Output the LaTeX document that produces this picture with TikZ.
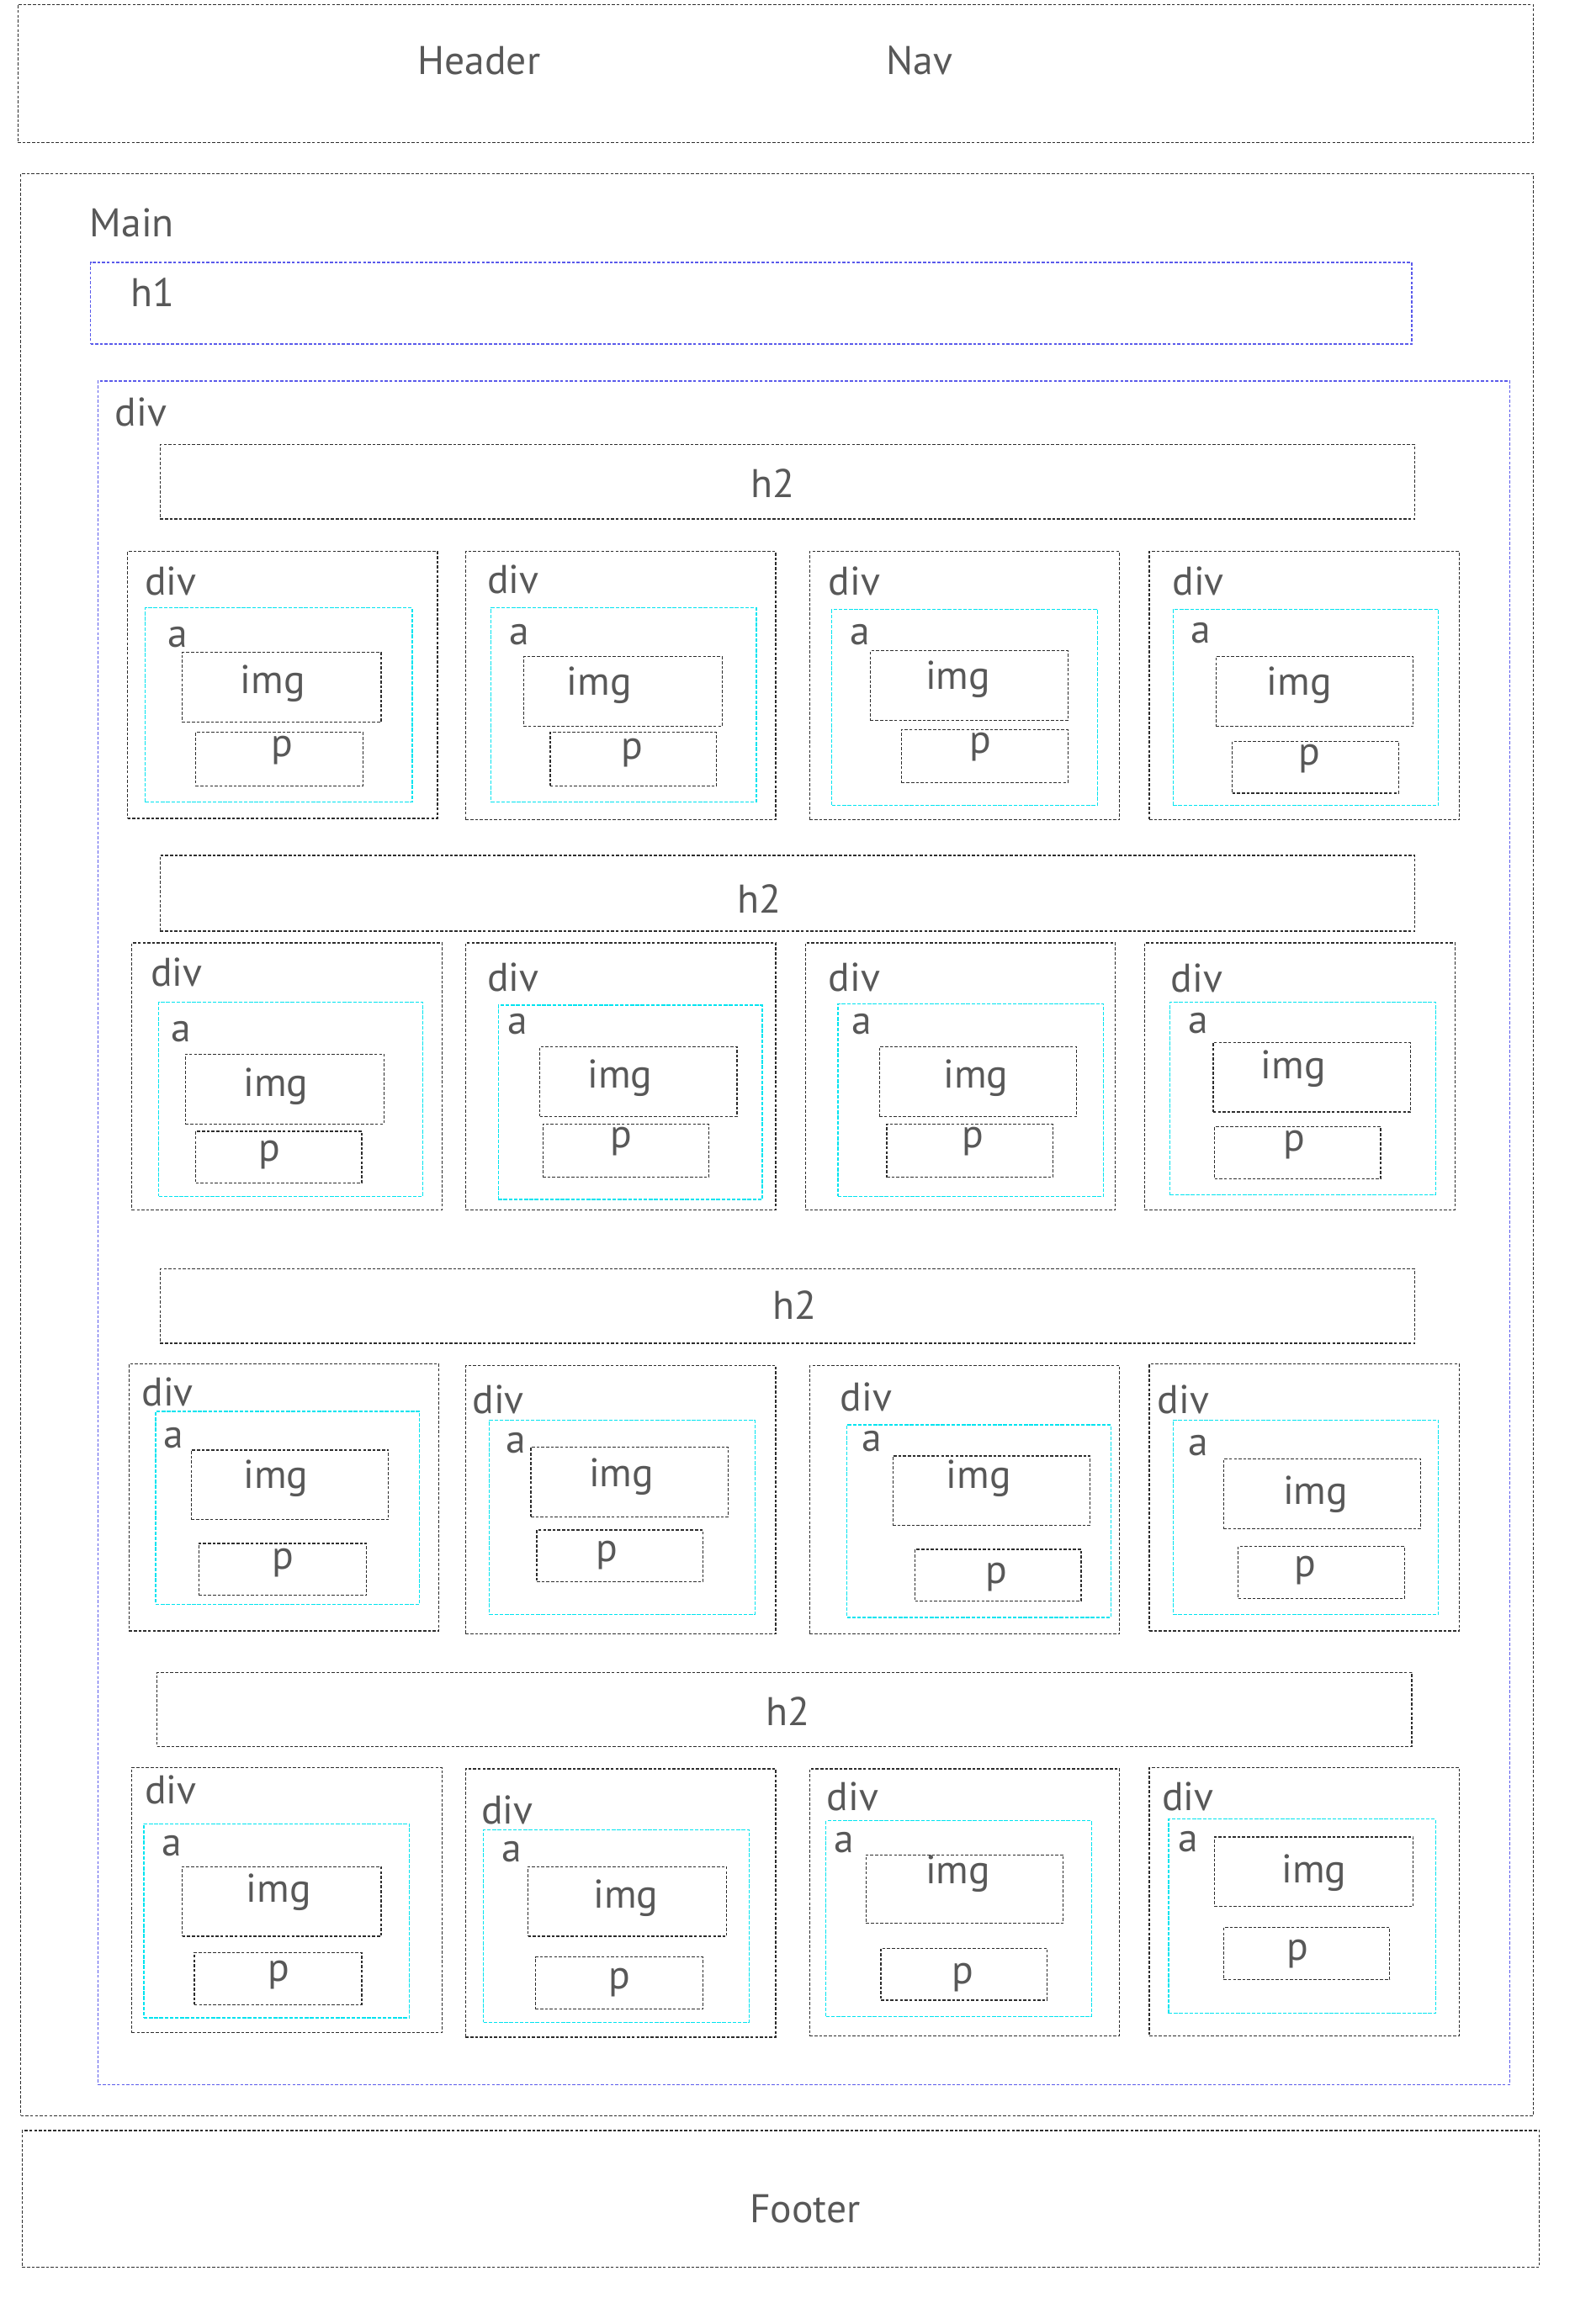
\documentclass[tikz,border=0pt]{standalone}
\usepackage{fontspec}
\setmainfont{PT Sans}
\usetikzlibrary{fit}
\definecolor{txt}{RGB}{88,88,88}
\definecolor{gline}{RGB}{45,45,45}
\definecolor{bline}{RGB}{90,90,235}
\definecolor{cline}{RGB}{0,228,240}
\tikzset{
  every picture/.style={x=1pt,y=-1pt},
  gbox/.style={draw=gline, dash pattern=on 2pt off 1.2pt, line width=0.7pt},
  bbox/.style={draw=bline, dash pattern=on 2pt off 1.2pt, line width=0.7pt},
  cbox/.style={draw=cline, dash pattern=on 2.5pt off 1pt, line width=0.7pt},
  lbl/.style={text=txt, font=\fontsize{27}{30}\selectfont, inner sep=0pt},
}
\newcommand\bx[6]{\node[#1,fit={(#3,#4)(#5,#6)},inner sep=0pt] (#2) {};}
\newcommand\lb[4]{\node[lbl] (#1) at (#2,#3) {#4};}
\begin{document}
\begin{tikzpicture}
\useasboundingbox[fill=white] (0,0) rectangle (1062,1567.5);
% header
\bx{gbox}{header}{12}{3}{1034}{96}
\lb{headerl}{323}{41}{Header}
\lb{navl}{620}{41}{Nav}
% main
\bx{gbox}{main}{14}{117}{1034}{1427}
\lb{mainl}{89}{150}{Main}
\bx{bbox}{h1}{61}{177}{952}{232}
\lb{h1l}{103}{197}{h1}
\bx{bbox}{odiv}{66}{257}{1018}{1406}
\lb{odivl}{95}{278}{div}
% ---------- row 1
\bx{gbox}{h2a}{108}{300}{954}{350}
\lb{h2al}{521}{326}{h2}
% cell 1
\bx{gbox}{d11}{86}{372}{295}{552}
\lb{d11l}{115}{392}{div}
\bx{cbox}{a11}{98}{410}{278}{541}
\lb{a11l}{120}{430}{a}
\bx{gbox}{i11}{123}{440}{257}{487}
\lb{i11l}{184}{461}{img}
\bx{gbox}{p11}{132}{494}{245}{530}
\lb{p11l}{190}{506}{p}
% cell 2
\bx{gbox}{d12}{314}{372}{523}{553}
\lb{d12l}{346}{391}{div}
\bx{cbox}{a12}{331}{410}{510}{541}
\lb{a12l}{350}{428}{a}
\bx{gbox}{i12}{353}{443}{487}{490}
\lb{i12l}{404}{462}{img}
\bx{gbox}{p12}{371}{494}{483}{530}
\lb{p12l}{426}{508}{p}
% cell 3
\bx{gbox}{d13}{546}{372}{755}{553}
\lb{d13l}{576}{392}{div}
\bx{cbox}{a13}{561}{411}{740}{543}
\lb{a13l}{580}{428}{a}
\bx{gbox}{i13}{587}{439}{720}{486}
\lb{i13l}{646}{458}{img}
\bx{gbox}{p13}{608}{492}{720}{528}
\lb{p13l}{661}{504}{p}
% cell 4
\bx{gbox}{d14}{775}{372}{984}{553}
\lb{d14l}{808}{392}{div}
\bx{cbox}{a14}{791}{411}{970}{543}
\lb{a14l}{810}{427}{a}
\bx{gbox}{i14}{820}{443}{953}{490}
\lb{i14l}{876}{462}{img}
\bx{gbox}{p14}{831}{500}{943}{535}
\lb{p14l}{883}{512}{p}
% ---------- row 2
\bx{gbox}{h2b}{108}{577}{954}{628}
\lb{h2bl}{512}{606}{h2}
\bx{gbox}{d21}{89}{636}{298}{816}
\lb{d21l}{119}{656}{div}
\bx{cbox}{a21}{107}{676}{285}{807}
\lb{a21l}{122}{696}{a}
\bx{gbox}{i21}{125}{711}{259}{758}
\lb{i21l}{186}{733}{img}
\bx{gbox}{p21}{132}{763}{244}{798}
\lb{p21l}{182}{779}{p}
\bx{gbox}{d22}{314}{636}{523}{816}
\lb{d22l}{346}{659}{div}
\bx{cbox}{a22}{336}{678}{514}{809}
\lb{a22l}{349}{691}{a}
\bx{gbox}{i22}{364}{706}{497}{753}
\lb{i22l}{418}{727}{img}
\bx{gbox}{p22}{366}{758}{478}{794}
\lb{p22l}{419}{770}{p}
\bx{gbox}{d23}{543}{636}{752}{816}
\lb{d23l}{576}{659}{div}
\bx{cbox}{a23}{565}{677}{744}{807}
\lb{a23l}{581}{691}{a}
\bx{gbox}{i23}{593}{706}{726}{753}
\lb{i23l}{658}{727}{img}
\bx{gbox}{p23}{598}{758}{710}{794}
\lb{p23l}{656}{770}{p}
\bx{gbox}{d24}{772}{636}{981}{816}
\lb{d24l}{807}{660}{div}
\bx{cbox}{a24}{789}{676}{968}{806}
\lb{a24l}{808}{690}{a}
\bx{gbox}{i24}{818}{703}{951}{750}
\lb{i24l}{872}{721}{img}
\bx{gbox}{p24}{819}{760}{931}{795}
\lb{p24l}{873}{772}{p}
% ---------- row 3
\bx{gbox}{h2c}{108}{856}{954}{906}
\lb{h2cl}{536}{880}{h2}
\bx{gbox}{d31}{87}{920}{296}{1100}
\lb{d31l}{113}{939}{div}
\bx{cbox}{a31}{105}{952}{283}{1082}
\lb{a31l}{117}{970}{a}
\bx{gbox}{i31}{129}{978}{262}{1025}
\lb{i31l}{186}{997}{img}
\bx{gbox}{p31}{134}{1041}{247}{1076}
\lb{p31l}{191}{1054}{p}
\bx{gbox}{d32}{314}{921}{523}{1102}
\lb{d32l}{336}{944}{div}
\bx{cbox}{a32}{330}{958}{509}{1089}
\lb{a32l}{348}{973}{a}
\bx{gbox}{i32}{358}{976}{491}{1023}
\lb{i32l}{419}{996}{img}
\bx{gbox}{p32}{362}{1032}{474}{1067}
\lb{p32l}{409}{1049}{p}
\bx{gbox}{d33}{546}{921}{755}{1102}
\lb{d33l}{584}{942}{div}
\bx{cbox}{a33}{571}{961}{749}{1091}
\lb{a33l}{588}{972}{a}
\bx{gbox}{i33}{602}{982}{735}{1029}
\lb{i33l}{660}{997}{img}
\bx{gbox}{p33}{617}{1045}{729}{1080}
\lb{p33l}{672}{1064}{p}
\bx{gbox}{d34}{775}{920}{984}{1100}
\lb{d34l}{798}{944}{div}
\bx{cbox}{a34}{791}{958}{970}{1089}
\lb{a34l}{808}{975}{a}
\bx{gbox}{i34}{825}{984}{958}{1031}
\lb{i34l}{887}{1008}{img}
\bx{gbox}{p34}{835}{1043}{947}{1078}
\lb{p34l}{880}{1059}{p}
% ---------- row 4
\bx{gbox}{h2d}{106}{1128}{952}{1178}
\lb{h2dl}{531}{1154}{h2}
\bx{gbox}{d41}{89}{1192}{298}{1371}
\lb{d41l}{115}{1207}{div}
\bx{cbox}{a41}{97}{1230}{276}{1361}
\lb{a41l}{116}{1245}{a}
\bx{gbox}{i41}{123}{1259}{257}{1306}
\lb{i41l}{188}{1276}{img}
\bx{gbox}{p41}{131}{1317}{244}{1352}
\lb{p41l}{188}{1332}{p}
\bx{gbox}{d42}{314}{1193}{523}{1374}
\lb{d42l}{342}{1221}{div}
\bx{cbox}{a42}{326}{1234}{505}{1364}
\lb{a42l}{345}{1249}{a}
\bx{gbox}{i42}{356}{1259}{490}{1306}
\lb{i42l}{422}{1280}{img}
\bx{gbox}{p42}{361}{1320}{474}{1355}
\lb{p42l}{418}{1337}{p}
\bx{gbox}{d43}{546}{1193}{755}{1373}
\lb{d43l}{575}{1212}{div}
\bx{cbox}{a43}{557}{1228}{736}{1360}
\lb{a43l}{569}{1243}{a}
\bx{gbox}{i43}{584}{1251}{717}{1297}
\lb{i43l}{646}{1264}{img}
\bx{gbox}{p43}{594}{1314}{706}{1349}
\lb{p43l}{649}{1334}{p}
\bx{gbox}{d44}{775}{1192}{984}{1373}
\lb{d44l}{801}{1212}{div}
\bx{cbox}{a44}{788}{1227}{968}{1358}
\lb{a44l}{801}{1242}{a}
\bx{gbox}{i44}{819}{1239}{953}{1286}
\lb{i44l}{886}{1263}{img}
\bx{gbox}{p44}{825}{1300}{937}{1335}
\lb{p44l}{875}{1318}{p}
% footer
\bx{gbox}{footer}{15}{1437}{1038}{1529}
\lb{footerl}{543}{1490}{Footer}
\end{tikzpicture}
\end{document}
